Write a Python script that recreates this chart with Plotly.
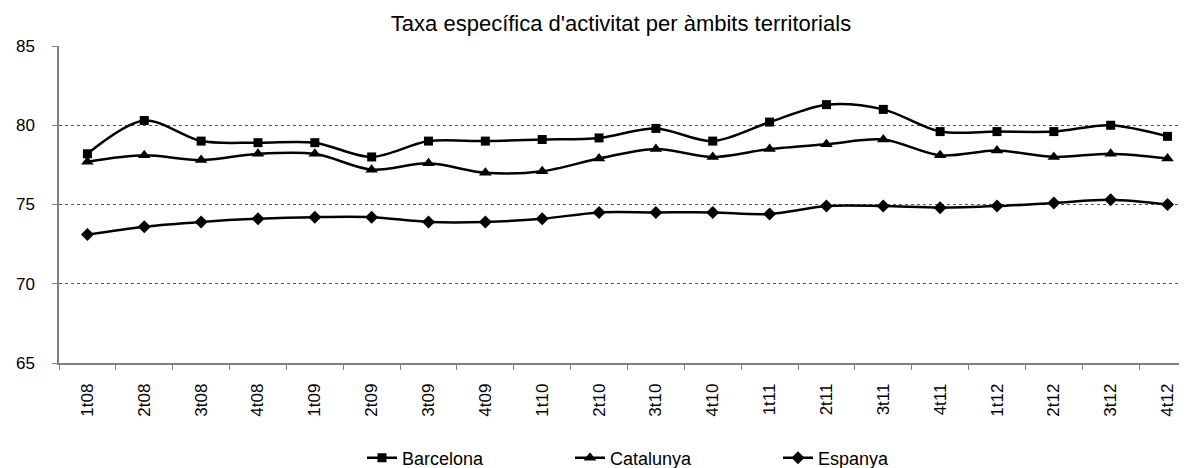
import plotly.graph_objects as go

quarters = ["1t08", "2t08", "3t08", "4t08", "1t09", "2t09", "3t09", "4t09", "1t10", "2t10",
            "3t10", "4t10", "1t11", "2t11", "3t11", "4t11", "1t12", "2t12", "3t12", "4t12"]
barcelona = [78.2, 80.3, 79.0, 78.9, 78.9, 78.0, 79.0, 79.0, 79.1, 79.2,
             79.8, 79.0, 80.2, 81.3, 81.0, 79.6, 79.6, 79.6, 80.0, 79.3]
catalunya = [77.7, 78.1, 77.8, 78.2, 78.2, 77.2, 77.6, 77.0, 77.1, 77.9,
             78.5, 78.0, 78.5, 78.8, 79.1, 78.1, 78.4, 78.0, 78.2, 77.9]
espanya = [73.1, 73.6, 73.9, 74.1, 74.2, 74.2, 73.9, 73.9, 74.1, 74.5,
           74.5, 74.5, 74.4, 74.9, 74.9, 74.8, 74.9, 75.1, 75.3, 75.0]
y_ticks = [65, 70, 75, 80, 85]
title_text = "Taxa específica d'activitat per àmbits territorials"

FONT = "Liberation Sans, Arial, sans-serif"
W, H = 1187, 468
OFF = 8  # page body margin offset compensation
L, T = 53 - OFF, 46 - OFF
B = H - (363 - OFF)
R = OFF

fig = go.Figure()
series = [("Barcelona", barcelona, "square", 9),
          ("Catalunya", catalunya, "triangle-up", 11),
          ("Espanya", espanya, "diamond", 10)]
for name, vals, sym, sz in series:
    fig.add_trace(go.Scatter(
        x=quarters, y=vals, name=name, mode="lines+markers",
        line=dict(color="black", width=2.5, shape="spline", smoothing=0.9),
        marker=dict(symbol=sym, size=sz, color="black"),
    ))

fig.update_layout(
    width=W, height=H,
    margin=dict(l=L, r=R, t=T, b=B, pad=0),
    paper_bgcolor="white", plot_bgcolor="white",
    font=dict(family=FONT, size=17, color="black"),
    title=dict(text=title_text, font=dict(family=FONT, size=22, color="black"),
               x=(618 - 53) / (W - L - R), xref="paper", xanchor="center",
               y=1 - (23 - OFF) / H, yref="container", yanchor="middle"),
    showlegend=True,
    legend=dict(orientation="h", x=(362 - OFF) / W, xref="container", xanchor="left",
                y=1 - (458 - OFF) / H, yref="container", yanchor="middle",
                font=dict(family=FONT, size=18, color="black"),
                entrywidth=163, entrywidthmode="pixels",
                bgcolor="rgba(0,0,0,0)", itemclick=False),
    xaxis=dict(type="category", categoryorder="array", categoryarray=quarters,
               range=[-0.5, 19.5 - 9 / 57.2],
               showline=True, linecolor="#808080", linewidth=1.5,
               ticks="outside", tickson="boundaries", ticklen=5, tickcolor="#808080",
               ticklabelstandoff=12,
               tickangle=-90, tickfont=dict(family=FONT, size=17, color="black"),
               showgrid=False, zeroline=False),
    yaxis=dict(range=[65, 85], tickvals=y_ticks,
               showline=True, linecolor="#808080", linewidth=1.5,
               ticks="outside", ticklen=5, tickcolor="#808080",
               ticklabelstandoff=14,
               tickfont=dict(family=FONT, size=17, color="black"),
               showgrid=True, gridcolor="#555555", gridwidth=1, griddash="dot",
               zeroline=False),
)

fig.write_html("out.html")
